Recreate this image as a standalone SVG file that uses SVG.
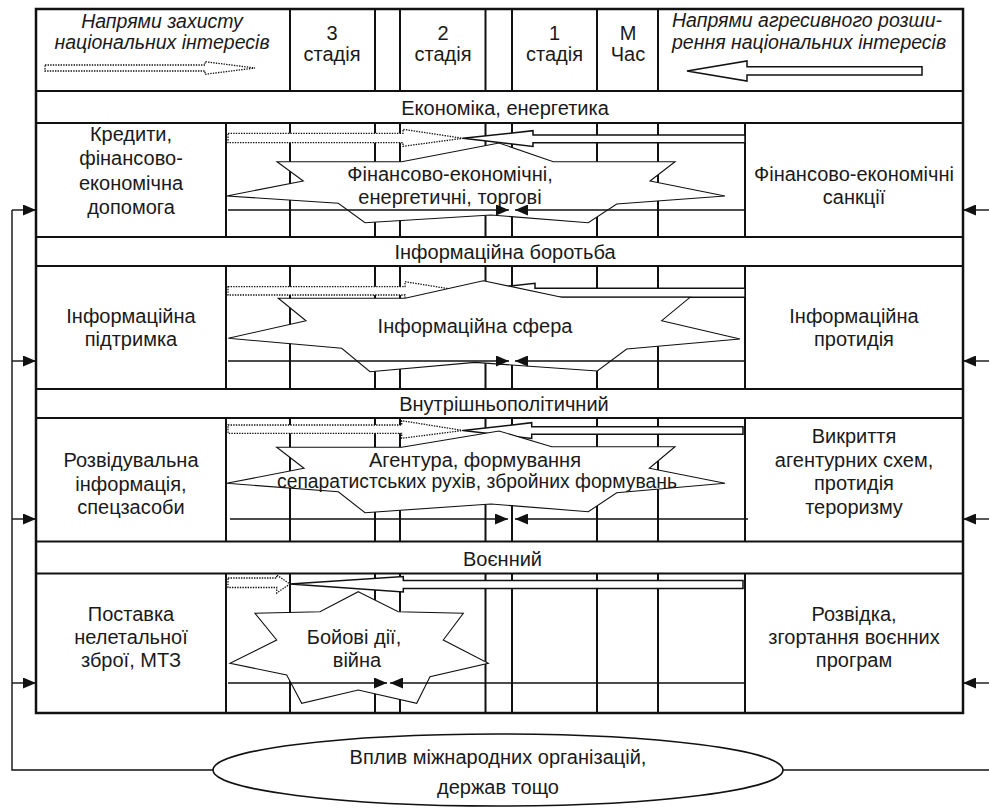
<svg xmlns="http://www.w3.org/2000/svg" width="989" height="811" viewBox="0 0 989 811">
<defs>
<style>
.g{fill:none;stroke:#111;stroke-width:2}
.frame{fill:none;stroke:#111;stroke-width:2.5}
.blk{fill:#fff;stroke:#111;stroke-width:1.5;stroke-linejoin:miter}
.dot{fill:#fff;stroke:#111;stroke-width:1.3;stroke-dasharray:1.4 1.2}
.star{fill:#fff;stroke:#111;stroke-width:1.1;stroke-linejoin:miter}
.ln{fill:none;stroke:#111;stroke-width:1.4}
.ell{fill:#fff;stroke:#111;stroke-width:1.6}
text{font-family:"Liberation Sans",Arial,sans-serif;font-size:20px;fill:#1a1a1a;text-anchor:middle}
.it{font-style:italic;font-size:19.5px}
.st{text-anchor:start}
</style>
<marker id="ah" markerUnits="userSpaceOnUse" markerWidth="13" markerHeight="11" refX="13" refY="5.5" orient="auto">
<path d="M0,0 L13,5.5 L0,11 Z" fill="#111"/>
</marker>
</defs>
<rect width="989" height="811" fill="#fff"/>

<!-- table grid -->
<g id="grid">
<rect class="frame" x="36" y="9" width="927" height="704"/>
<path class="g" d="M36,91H963M36,123H963M36,237H963M36,266H963M36,389H963M36,418H963M36,541.5H963M36,573.5H963"/>
<path class="g" d="M290,9V91M375,9V91M400,9V91M485.5,9V91M512,9V91M597,9V91M658,9V91"/>
<path class="g" d="M226,123V237M290,123V237M375,123V237M400,123V237M485.5,123V237M512,123V237M597,123V237M658,123V237M745,123V237"/>
<path class="g" d="M226,266V389M290,266V389M375,266V389M400,266V389M485.5,266V389M512,266V389M597,266V389M658,266V389M745,266V389"/>
<path class="g" d="M226,418V541.5M290,418V541.5M375,418V541.5M400,418V541.5M485.5,418V541.5M512,418V541.5M597,418V541.5M658,418V541.5M745,418V541.5"/>
<path class="g" d="M226,573.5V713M290,573.5V713M375,573.5V713M400,573.5V713M485.5,573.5V713M512,573.5V713M597,573.5V713M658,573.5V713M745,573.5V713"/>
</g>

<!-- header cells -->
<g id="hdr-defense">
<text class="it" x="162" y="28">Напрями захисту</text>
<text class="it" x="162" y="49">національних інтересів</text>
<path class="dot" d="M45,65 H205 V61.7 L255,68 L205,74.3 V71 H45 Z"/>
</g>
<g id="hdr-stage3"><text x="332" y="40">3</text><text x="332" y="61">стадія</text></g>
<g id="hdr-stage2"><text x="443" y="40">2</text><text x="443" y="61">стадія</text></g>
<g id="hdr-stage1"><text x="554.5" y="40">1</text><text x="554.5" y="61">стадія</text></g>
<g id="hdr-time"><text x="628" y="40">М</text><text x="628" y="61">Час</text></g>
<g id="hdr-aggression">
<text class="it st" x="672" y="27">Напрями агресивного розши-</text>
<text class="it st" x="672" y="49">рення національних інтересів</text>
<path class="blk" d="M687,71 L747,61 V66.7 H922 V75 H747 V81 Z"/>
</g>

<!-- bands -->
<g id="band-economy"><text x="505" y="115">Економіка, енергетика</text></g>
<g id="band-info"><text x="505" y="259">Інформаційна боротьба</text></g>
<g id="band-internal"><text x="504" y="411">Внутрішньополітичний</text></g>
<g id="band-military"><text x="502.5" y="566">Воєнний</text></g>

<!-- side boxes -->
<g id="left-1"><text x="131" y="141">Кредити,</text><text x="131" y="165">фінансово-</text><text x="131" y="190">економічна</text><text x="131" y="214">допомога</text></g>
<g id="right-1"><text x="854" y="181">Фінансово-економічні</text><text x="854" y="204">санкції</text></g>
<g id="left-2"><text x="131" y="323">Інформаційна</text><text x="131" y="346">підтримка</text></g>
<g id="right-2"><text x="854" y="323">Інформаційна</text><text x="854" y="346">протидія</text></g>
<g id="left-3"><text x="131" y="467">Розвідувальна</text><text x="131" y="490.5">інформація,</text><text x="131" y="514">спецзасоби</text></g>
<g id="right-3"><text x="854" y="443">Викриття</text><text x="854" y="467">агентурних схем,</text><text x="854" y="490">протидія</text><text x="854" y="514">тероризму</text></g>
<g id="left-4"><text x="131" y="621">Поставка</text><text x="131" y="644">нелетальної</text><text x="131" y="667">зброї, МТЗ</text></g>
<g id="right-4"><text x="854" y="621">Розвідка,</text><text x="854" y="644">згортання воєнних</text><text x="854" y="667">програм</text></g>

<!-- block direction arrows -->
<g id="direction-arrows">
<path class="dot" d="M228,133.3 H403 V129.3 L463,138.3 L403,146.3 V142.7 H228 Z"/>
<path class="blk" d="M463,138.3 L533,130.7 V135 H745 V142.7 H533 V146.5 Z"/>
<path class="dot" d="M228,286.7 H405 V281.7 L463,291 L405,300 V295 H228 Z"/>
<path class="blk" d="M463,291 L535,283.3 V288.3 H745 V297.3 H535 V302 Z"/>
<path class="dot" d="M228,425 H401.7 V420.7 L463,430.5 L401.7,438.3 V433.3 H228 Z"/>
<path class="blk" d="M463,430.5 L531.7,422.7 V426.7 H743 V434.3 H531.7 V438.5 Z"/>
<path class="dot" d="M228,578 H276.7 V575 L290,584 L276.7,593 V587.5 H228 Z"/>
<path class="blk" d="M290,584 L403.3,576.5 V580.5 H743 V588.5 H403.3 V592 Z"/>
</g>

<!-- stars -->
<g id="star-1">
<polygon class="star" points="277,161.7 401.7,161.7 499,143 553.3,161.7 675,161.7 650,181 725,196 616.7,204 588.3,222.7 491,215 365,222.7 338.3,203.3 226.7,196 303.3,181"/>
<text x="450" y="181">Фінансово-економічні,</text>
<text x="450" y="204">енергетичні, торгові</text>
</g>
<g id="star-2">
<polygon class="star" points="278.3,298.3 405,298.3 483.3,280.7 561.7,297.3 690,297.3 661.7,320.7 740,339 626.7,349 597.3,371 475,362.4 370,371.7 341.7,348.3 228.3,338.3 306,320.7"/>
<text x="475" y="333">Інформаційна сфера</text>
</g>
<g id="star-3">
<polygon class="star" points="276.7,447.3 401.7,447.3 499,431 551.7,446.7 675,446.7 649.3,468.3 725,483.3 616.7,492.7 588.3,511.7 491,504 365,512.7 338.3,491.7 226.7,483.3 304,468.3"/>
<text x="475" y="467">Агентура, формування</text>
<text x="477" y="488" textLength="400" lengthAdjust="spacingAndGlyphs">сепаратистських рухів, збройних формувань</text>
</g>
<g id="star-4">
<polygon class="star" points="358.3,591.7 398.3,611.7 463.3,613.3 443.3,640 488.3,663.3 430,676.7 416.7,703.3 358.3,690 301.7,703.3 286.7,675 230,663.3 276.7,640 255,613.3 320,611.7"/>
<text x="354" y="644">Бойові дії,</text>
<text x="357" y="667">війна</text>
</g>

<!-- bottom ellipse -->
<g id="intl-influence">
<ellipse class="ell" cx="498" cy="770" rx="285" ry="36"/>
<text x="498" y="764">Вплив міжнародних організацій,</text>
<text x="498" y="794">держав тощо</text>
</g>

<!-- connectors -->
<g id="connectors">
<path class="ln" d="M228,210 H509" marker-end="url(#ah)"/>
<path class="ln" d="M745,210 H515" marker-end="url(#ah)"/>
<path class="ln" d="M228,361 H509" marker-end="url(#ah)"/>
<path class="ln" d="M745,361 H515" marker-end="url(#ah)"/>
<path class="ln" d="M230,519 H508" marker-end="url(#ah)"/>
<path class="ln" d="M748,519 H515" marker-end="url(#ah)"/>
<path class="ln" d="M228,683 H387" marker-end="url(#ah)"/>
<path class="ln" d="M745,683 H390" marker-end="url(#ah)"/>
<path class="ln" d="M213,770 H12 V210" stroke-width="1.8"/>
<path class="ln" d="M12,210 H36" stroke-width="1.8" marker-end="url(#ah)"/>
<path class="ln" d="M12,361 H36" stroke-width="1.8" marker-end="url(#ah)"/>
<path class="ln" d="M12,519 H36" stroke-width="1.8" marker-end="url(#ah)"/>
<path class="ln" d="M12,683 H36" stroke-width="1.8" marker-end="url(#ah)"/>
<path class="ln" d="M783,770 H989" stroke-width="1.8"/>
<path class="ln" d="M989,210 H963" stroke-width="1.8" marker-end="url(#ah)"/>
<path class="ln" d="M989,361 H963" stroke-width="1.8" marker-end="url(#ah)"/>
<path class="ln" d="M989,519 H963" stroke-width="1.8" marker-end="url(#ah)"/>
<path class="ln" d="M989,683 H963" stroke-width="1.8" marker-end="url(#ah)"/>
</g>
</svg>
